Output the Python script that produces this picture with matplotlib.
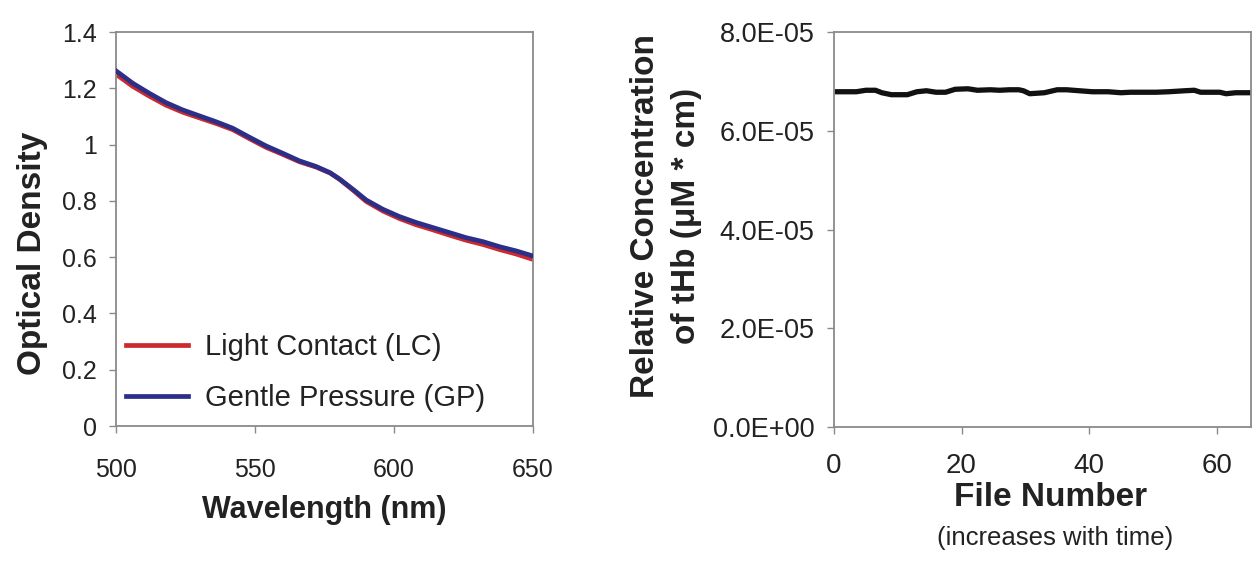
import matplotlib
matplotlib.use("Agg")
import matplotlib.pyplot as plt

plt.rcParams['font.family'] = ['Liberation Sans', 'DejaVu Sans']

# ---- Left panel data: optical density spectra ----
wavelength = [500, 506, 512, 518, 524, 530, 536, 542, 548, 554, 560, 566, 572,
              577, 580.5, 585.5, 590, 596, 602, 608, 614, 620, 626, 632, 638, 644, 650]
od_gp = [1.262, 1.218, 1.182, 1.149, 1.123, 1.102, 1.081, 1.058, 1.026, 0.995, 0.969,
         0.942, 0.922, 0.900, 0.877, 0.839, 0.803, 0.770, 0.744, 0.723, 0.705, 0.687,
         0.669, 0.655, 0.637, 0.622, 0.604]
od_lc = [1.250, 1.207, 1.172, 1.140, 1.115, 1.095, 1.075, 1.053, 1.021, 0.990, 0.965,
         0.939, 0.920, 0.899, 0.876, 0.836, 0.798, 0.764, 0.737, 0.715, 0.697, 0.678,
         0.660, 0.645, 0.627, 0.611, 0.592]
series_labels = ['Light Contact (LC)', 'Gentle Pressure (GP)']
x_ticks_left = [500, 550, 600, 650]
y_ticks_left = [0, 0.2, 0.4, 0.6, 0.8, 1, 1.2, 1.4]
y_ticklabels_left = ['0', '0.2', '0.4', '0.6', '0.8', '1', '1.2', '1.4']

# ---- Right panel data: relative tHb concentration over files ----
file_number = [0.5, 3.5, 5, 6.5, 7.5, 9, 11.5, 13, 14.5, 16, 17.5, 19, 21, 22.5, 24.5,
               26, 27.5, 29, 29.7, 30.7, 33, 35, 36.5, 38.5, 40.5, 43, 45, 46.5, 48.5,
               50.5, 52.5, 55, 56.5, 57.5, 60.5, 61.5, 63, 65]
thb = [6.79, 6.79, 6.82, 6.82, 6.77, 6.73, 6.73, 6.79, 6.81, 6.78, 6.78, 6.84, 6.85,
       6.82, 6.83, 6.82, 6.83, 6.83, 6.81, 6.75, 6.77, 6.83, 6.83, 6.81, 6.79, 6.79,
       6.77, 6.78, 6.78, 6.78, 6.79, 6.81, 6.82, 6.78, 6.78, 6.75, 6.77, 6.77]
thb = [v * 1e-5 for v in thb]
x_ticks_right = [0, 20, 40, 60]
y_ticks_right = [0, 2e-5, 4e-5, 6e-5, 8e-5]
y_ticklabels_right = ['0.0E+00', '2.0E-05', '4.0E-05', '6.0E-05', '8.0E-05']

W, H = 1259, 561
fig = plt.figure(figsize=(W / 100, H / 100), dpi=100)

def frac_box(l, r, t, b):
    return [l / W, 1 - b / H, (r - l) / W, (b - t) / H]

spine_col = '#8a8a8a'
text_col = '#222222'

axL = fig.add_axes(frac_box(116, 533, 32, 426))
axR = fig.add_axes(frac_box(834, 1251, 32, 427))

for ax in (axL, axR):
    for s in ax.spines.values():
        s.set_color(spine_col)
        s.set_linewidth(1.3)
    ax.tick_params(direction='out', length=5, width=1.0, color=spine_col,
                   labelcolor=text_col)

# Left
axL.plot(wavelength, od_lc, color='#cc2a2e', lw=3.4, label=series_labels[0], zorder=2)
axL.plot(wavelength, od_gp, color='#2b2f88', lw=3.4, label=series_labels[1], zorder=3)
axL.set_xlim(500, 650)
axL.set_ylim(0, 1.4)
axL.set_xticks(x_ticks_left)
axL.set_yticks(y_ticks_left)
axL.set_yticklabels(y_ticklabels_left)
axL.tick_params(axis='x', labelsize=18, pad=18)
axL.tick_params(axis='y', labelsize=18, pad=9)
axL.set_xlabel('Wavelength (nm)', fontsize=22, fontweight='bold', color=text_col)
axL.xaxis.set_label_coords(0.5, (426 - 510) / 394)
axL.xaxis.label.set_verticalalignment('center')
fig.text(33 / W, 1 - 253 / H, 'Optical Density', fontsize=24, fontweight='bold',
         color=text_col, rotation=90, ha='center', va='center', rotation_mode='anchor')
axL.text(438, 0.86, 'LC & GP', fontsize=18, color=text_col, ha='center', va='center')
leg = axL.legend(loc='lower left', bbox_to_anchor=(0.025, 0.035), frameon=False,
                 fontsize=21, handlelength=2.1, handletextpad=0.6, labelspacing=0.8,
                 borderpad=0, borderaxespad=0)
for t in leg.get_texts():
    t.set_color(text_col)
for h in leg.get_lines():
    h.set_linewidth(3.4)

# Right
axR.plot(file_number, thb, color='#111111', lw=3.8)
axR.set_xlim(0, 65.4)
axR.set_ylim(0, 8e-5)
axR.set_xticks(x_ticks_right)
axR.set_yticks(y_ticks_right)
axR.set_yticklabels(y_ticklabels_right)
axR.tick_params(axis='x', labelsize=20, pad=14)
axR.tick_params(axis='y', labelsize=19.5, pad=9)
axR.set_xlabel('File Number', fontsize=24, fontweight='bold', color=text_col)
axR.xaxis.set_label_coords(0.52, (427 - 498) / 395)
axR.xaxis.label.set_verticalalignment('center')
axR.set_ylabel('Relative Concentration\nof tHb (μM * cm)', fontsize=24,
               fontweight='bold', color=text_col, linespacing=1.4)
axR.yaxis.set_label_coords((666 - 834) / 417, (427 - 216) / 395)
axR.yaxis.label.set_verticalalignment('center')
fig.text(1055 / W, 1 - 538 / H, '(increases with time)', fontsize=18.5,
         color=text_col, ha='center', va='center')

fig.savefig('out.png', dpi=100)
